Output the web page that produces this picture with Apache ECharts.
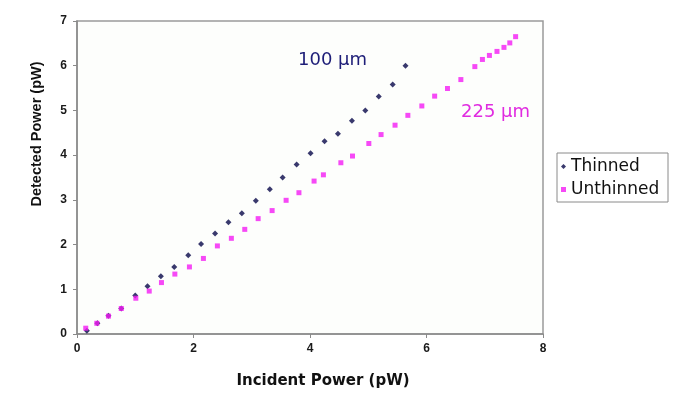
<!DOCTYPE html>
<html>
<head>
<meta charset="utf-8">
<script src="https://cdn.jsdelivr.net/npm/echarts@6/dist/echarts.min.js"></script>
<style>
  html, body { margin: 0; padding: 0; background: #fff; }
  #chart { width: 680px; height: 396px; }
</style>
</head>
<body>
<div id="chart"></div>
<script>
// thinned (100 um) readings, incident vs detected power in pW
const thinnedX = [0.17, 0.35, 0.54, 0.76, 1.00, 1.21, 1.44, 1.67, 1.91, 2.13, 2.37, 2.60, 2.83, 3.07, 3.31,
                  3.53, 3.77, 4.01, 4.25, 4.48, 4.72, 4.95, 5.18, 5.42, 5.64];
const thinnedY = [0.07, 0.24, 0.41, 0.57, 0.86, 1.07, 1.29, 1.50, 1.76, 2.01, 2.25, 2.50, 2.70, 2.98, 3.24,
                  3.50, 3.79, 4.04, 4.31, 4.48, 4.77, 5.00, 5.31, 5.58, 6.00];

// unthinned (225 um)
const unthinnedX = [0.15, 0.34, 0.54, 0.76, 1.01, 1.24, 1.45, 1.68, 1.93, 2.17, 2.41, 2.65, 2.88, 3.11, 3.35,
                    3.59, 3.81, 4.07, 4.23, 4.53, 4.73, 5.01, 5.22, 5.46, 5.68, 5.92, 6.14, 6.36, 6.59,
                    6.83, 6.96, 7.08, 7.21, 7.33, 7.43, 7.53];
const unthinnedY = [0.13, 0.24, 0.40, 0.57, 0.80, 0.96, 1.15, 1.34, 1.50, 1.69, 1.97, 2.14, 2.34, 2.58, 2.76,
                    2.99, 3.16, 3.42, 3.56, 3.83, 3.98, 4.26, 4.46, 4.67, 4.89, 5.10, 5.32, 5.49, 5.69,
                    5.98, 6.14, 6.23, 6.32, 6.41, 6.51, 6.65];

const xTicks = [0, 2, 4, 6, 8];
const yTicks = [0, 1, 2, 3, 4, 5, 6, 7];

const pair = (xs, ys) => xs.map((x, i) => [x, ys[i]]);

const chart = echarts.init(document.getElementById('chart'));

const axisCommon = {
  axisLine: { show: true, onZero: false, lineStyle: { color: '#8a8a8a', width: 1.5 } },
  axisTick: { show: true, length: 4, lineStyle: { color: '#8a8a8a' } },
  splitLine: { show: false },
  axisLabel: { color: '#1a1a1a', fontSize: 12, fontWeight: 'bold', fontFamily: 'Liberation Sans' }
};

chart.setOption({
  animation: false,
  backgroundColor: '#fff',
  grid: {
    left: 77, right: 137, top: 21, bottom: 62,
    show: true, borderColor: '#9a9a9a', borderWidth: 1.5, backgroundColor: '#fdfefc'
  },
  xAxis: Object.assign({}, axisCommon, {
    type: 'value', min: xTicks[0], max: xTicks[xTicks.length - 1], interval: 2,
    axisLabel: Object.assign({}, axisCommon.axisLabel, { margin: 9 })
  }),
  yAxis: Object.assign({}, axisCommon, {
    type: 'value', min: yTicks[0], max: yTicks[yTicks.length - 1], interval: 1,
    axisLabel: Object.assign({}, axisCommon.axisLabel, { margin: 10 })
  }),
  legend: {
    orient: 'vertical', left: 561, top: 156,
    padding: 0, itemGap: 2,
    itemWidth: 5, itemHeight: 5,
    textStyle: { fontSize: 17, lineHeight: 21, color: '#111', fontFamily: 'DejaVu Sans' },
    data: [
      { name: 'Thinned', icon: 'diamond' },
      { name: 'Unthinned', icon: 'rect' }
    ]
  },
  series: [
    {
      name: 'Thinned', type: 'scatter', symbol: 'diamond', symbolSize: 6,
      itemStyle: { color: '#080848' },
      data: pair(thinnedX, thinnedY)
    },
    {
      name: 'Unthinned', type: 'scatter', symbol: 'rect', symbolSize: 5,
      itemStyle: { color: '#f41cf4' },
      data: pair(unthinnedX, unthinnedY)
    }
  ],
  graphic: [
    { type: 'rect', shape: { x: 557, y: 153, width: 111, height: 49 },
      style: { fill: 'none', stroke: '#8a8a8a', lineWidth: 1 } },
    { type: 'text', left: 298, top: 51,
      style: { text: '100 µm', fill: '#1e1e78', font: '18px "DejaVu Sans"' } },
    { type: 'text', left: 461, top: 103,
      style: { text: '225 µm', fill: '#e02ce0', font: '18px "DejaVu Sans"' } },
    { type: 'text', x: 323, y: 381,
      style: { text: 'Incident Power (pW)', fill: '#111', font: 'bold 15px "DejaVu Sans"',
               align: 'center', verticalAlign: 'middle' } },
    { type: 'text', x: 37, y: 134, rotation: Math.PI / 2,
      style: { text: 'Detected Power (pW)', fill: '#111', font: 'bold 14.5px "Liberation Sans"',
               align: 'center', verticalAlign: 'middle' } }
  ]
});
</script>
</body>
</html>
